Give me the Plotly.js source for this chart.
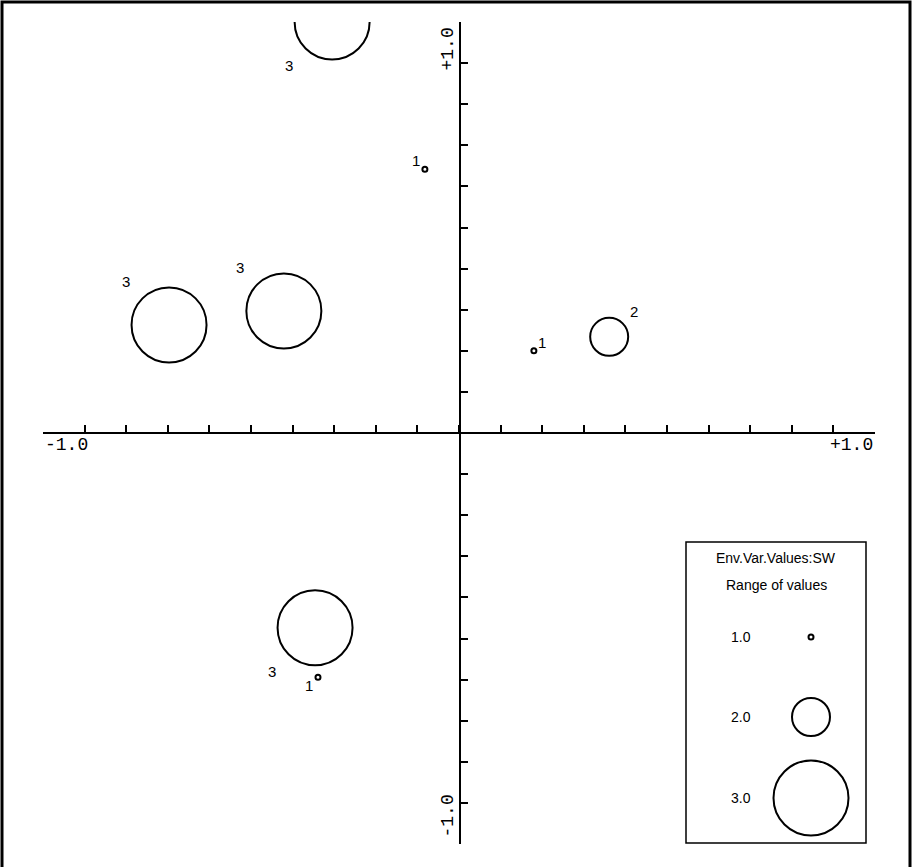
<!DOCTYPE html>
<html>
<head>
<meta charset="utf-8">
<script src="https://cdn.plot.ly/plotly-3.0.1.min.js"></script>
<style>
  html, body { margin: 0; padding: 0; background: #fff; }
  #chart { width: 912px; height: 867px; }
</style>
</head>
<body>
<div id="chart"></div>
<script>
// ---- data ----
const siteX      = [-0.305, -0.082, -0.697, -0.421, 0.180, 0.361, -0.346, -0.339];
const siteY      = [ 1.000,  0.642,  0.263,  0.297, 0.200, 0.234, -0.474, -0.594];
const siteValue  = [3, 1, 3, 3, 1, 2, 3, 1];
const labelSide  = ['bl', 'tl', 'tl', 'tl', 'tr', 'tr', 'bl', 'bl'];

const legendTitle    = 'Env.Var.Values:SW';
const legendSubtitle = 'Range of values';
const legendValues   = [1.0, 2.0, 3.0];

const axisEndLabels = ['-1.0', '+1.0'];

// ---- styling ----
const W = 912, H = 867;
const M = {l: 43, r: 37, t: 22, b: 23};
const PW = W - M.l - M.r, PH = H - M.t - M.b;
const px = x => (x - M.l) / PW;          // pixel -> paper x
const py = y => (H - M.b - y) / PH;      // pixel -> paper y

const sizeOf = v => ({1: 5, 2: 38, 3: 75})[Math.round(v)];
const textFont = {family: 'Liberation Sans, Arial, sans-serif', size: 15, color: '#000'};
const legFont  = {family: 'Liberation Sans, Arial, sans-serif', size: 14, color: '#000'};
const monoFont = {family: 'Liberation Mono, Courier New, monospace', size: 18, color: '#000'};

const markerStyle = sizes => ({
  symbol: 'circle-open',
  size: sizes,
  color: '#000',
  opacity: 1,
  line: {width: 2, color: '#000'}
});

const traces = [
  {
    type: 'scatter', mode: 'markers',
    x: siteX, y: siteY,
    marker: markerStyle(siteValue.map(sizeOf)),
    hoverinfo: 'skip', showlegend: false
  },
  {
    type: 'scatter', mode: 'markers',
    xaxis: 'x2', yaxis: 'y2',
    x: legendValues.map(() => px(811)),
    y: [py(637), py(717), py(798)],
    marker: markerStyle(legendValues.map(sizeOf)),
    cliponaxis: false,
    hoverinfo: 'skip', showlegend: false
  }
];

const annotations = [];
siteX.forEach((x, i) => {
  const off = sizeOf(siteValue[i]) / 2 + 6;
  const s = labelSide[i];
  annotations.push({
    x: x, y: siteY[i], xref: 'x', yref: 'y',
    text: String(siteValue[i]), showarrow: false, font: textFont,
    xanchor: 'center', yanchor: 'middle',
    xshift: s[1] === 'l' ? -off : off,
    yshift: s[0] === 't' ? off : -off
  });
});
// axis end labels
annotations.push({x: -1, y: 0, xref: 'x', yref: 'y', text: axisEndLabels[0], showarrow: false,
  font: monoFont, xanchor: 'left', yanchor: 'top', xshift: 0, yshift: 0});
annotations.push({x: 1, y: 0, xref: 'x', yref: 'y', text: axisEndLabels[1], showarrow: false,
  font: monoFont, xanchor: 'right', yanchor: 'top', xshift: 0, yshift: 0});
annotations.push({x: 0, y: 1, xref: 'x', yref: 'y', text: axisEndLabels[1], showarrow: false,
  font: monoFont, textangle: -90, xanchor: 'right', yanchor: 'top', xshift: 0, yshift: -4});
annotations.push({x: 0, y: -1, xref: 'x', yref: 'y', text: axisEndLabels[0], showarrow: false,
  font: monoFont, textangle: -90, xanchor: 'right', yanchor: 'bottom', xshift: 0, yshift: 4});
// legend texts
annotations.push({x: px(776), y: py(558), xref: 'paper', yref: 'paper', text: legendTitle,
  showarrow: false, font: legFont, xanchor: 'center', yanchor: 'middle'});
annotations.push({x: px(776), y: py(585), xref: 'paper', yref: 'paper', text: legendSubtitle,
  showarrow: false, font: legFont, xanchor: 'center', yanchor: 'middle'});
[637, 717, 798].forEach((yy, i) => {
  annotations.push({x: px(741), y: py(yy), xref: 'paper', yref: 'paper',
    text: legendValues[i].toFixed(1), showarrow: false,
    font: legFont, xanchor: 'center', yanchor: 'middle'});
});

const shapes = [
  // legend box
  {type: 'rect', xref: 'paper', yref: 'paper',
   x0: px(686), x1: px(866), y0: py(843), y1: py(542),
   line: {color: '#000', width: 1.5}},
  // outer frame (left, top, right)
  {type: 'path', xref: 'paper', yref: 'paper',
   path: `M ${px(2)} ${py(H + 2)} L ${px(2)} ${py(2)} L ${px(910)} ${py(2)} L ${px(910)} ${py(H + 2)}`,
   line: {color: '#000', width: 3}}
];

const axisCommon = {
  range: [-1, 1], anchor: 'free',
  showline: true, linecolor: '#000', linewidth: 2,
  ticks: 'inside', ticklen: 7, tickwidth: 2, tickcolor: '#000',
  tick0: -1, dtick: 0.1, showticklabels: false,
  showgrid: false, zeroline: false, fixedrange: true
};

const layout = {
  width: W, height: H,
  margin: M,
  paper_bgcolor: '#fff', plot_bgcolor: '#fff',
  showlegend: false,
  // x axis is positioned by paper y, y axis by paper x (axes cross at 0,0)
  xaxis: Object.assign({}, axisCommon, {position: py(433)}),
  yaxis: Object.assign({}, axisCommon, {position: px(460)}),
  xaxis2: {overlaying: 'x', anchor: 'y2', range: [0, 1], visible: false, fixedrange: true},
  yaxis2: {overlaying: 'y', anchor: 'x2', range: [0, 1], visible: false, fixedrange: true},
  annotations: annotations,
  shapes: shapes
};

Plotly.newPlot('chart', traces, layout, {staticPlot: true, displayModeBar: false});
</script>
</body>
</html>
